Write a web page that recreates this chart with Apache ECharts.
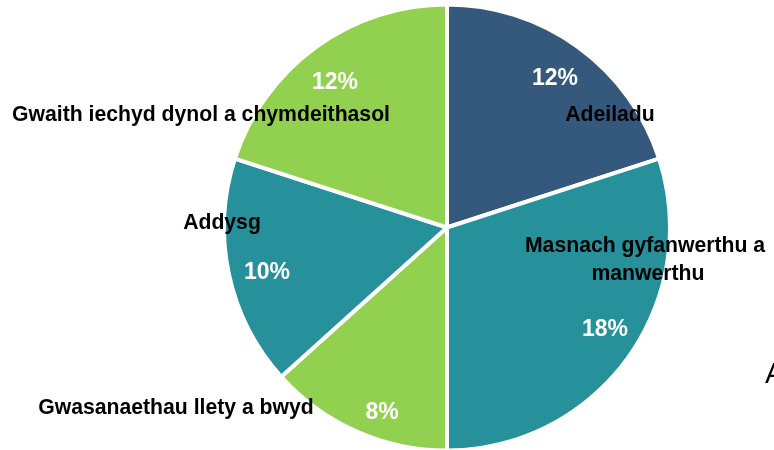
<!DOCTYPE html>
<html>
<head>
<meta charset="utf-8">
<script src="https://cdn.jsdelivr.net/npm/echarts@6/dist/echarts.min.js"></script>
<style>
  html, body { margin: 0; padding: 0; background: #fff; }
  #chart { width: 774px; height: 450px; }
</style>
</head>
<body>
<div id="chart"></div>
<script>
// Sector shares (per cent), clockwise from 12 o'clock
const categories = [
  'Adeiladu',
  'Masnach gyfanwerthu a manwerthu',
  'Gwasanaethau llety a bwyd',
  'Addysg',
  'Gwaith iechyd dynol a chymdeithasol'
];
const shares = [12, 18, 8, 10, 12];

const sliceColors = ['#35587d', '#26909b', '#92d050', '#26909b', '#92d050'];

// Label anchor points (text centres) for the sector names and the percentages
const nameSpots = [[610, 115], [648, 260], [176, 408], [222, 223], [201, 115]];
const pctSpots = [[555, 79], [605, 330], [382, 413], [267, 273], [335, 83]];

const FONT = '"Liberation Sans", Arial, Helvetica, sans-serif';
const CENTER = [447, 227.5];
const RADIUS = 223;

const chart = echarts.init(document.getElementById('chart'), null, { renderer: 'canvas' });

const sliceData = categories.map((name, i) => {
  const item = { name: name, value: shares[i], itemStyle: { color: sliceColors[i] } };
  if (i === 1) item.label = { width: 250, overflow: 'break' };
  return item;
});

chart.setOption({
  animation: false,
  backgroundColor: '#ffffff',
  series: [
    {
      type: 'pie',
      center: CENTER,
      radius: RADIUS,
      startAngle: 90,
      clockwise: true,
      silent: true,
      itemStyle: { borderColor: '#ffffff', borderWidth: 4 },
      label: {
        show: true,
        position: 'inside',
        formatter: '{b}',
        color: '#000000',
        fontFamily: FONT,
        fontWeight: 'bold',
        fontSize: 21.2,
        lineHeight: 28,
        align: 'center'
      },
      labelLine: { show: false },
      labelLayout: function (p) {
        const s = nameSpots[p.dataIndex];
        return { x: s[0], y: s[1], align: 'center', verticalAlign: 'middle' };
      },
      data: sliceData,
      z: 2
    },
    {
      type: 'pie',
      center: CENTER,
      radius: RADIUS,
      startAngle: 90,
      clockwise: true,
      silent: true,
      itemStyle: { color: 'rgba(0,0,0,0)', borderWidth: 0 },
      label: {
        show: true,
        position: 'inside',
        formatter: '{c}%',
        color: '#ffffff',
        fontFamily: FONT,
        fontWeight: 'bold',
        fontSize: 23
      },
      labelLine: { show: false },
      labelLayout: function (p) {
        const s = pctSpots[p.dataIndex];
        return { x: s[0], y: s[1], align: 'center', verticalAlign: 'middle' };
      },
      data: categories.map((name, i) => ({ name: name, value: shares[i] })),
      z: 3
    }
  ],
  graphic: [
    {
      type: 'text',
      left: 765,
      top: 360,
      style: { text: 'A', font: '29px ' + FONT, fill: '#000000' }
    }
  ]
});
</script>
</body>
</html>
